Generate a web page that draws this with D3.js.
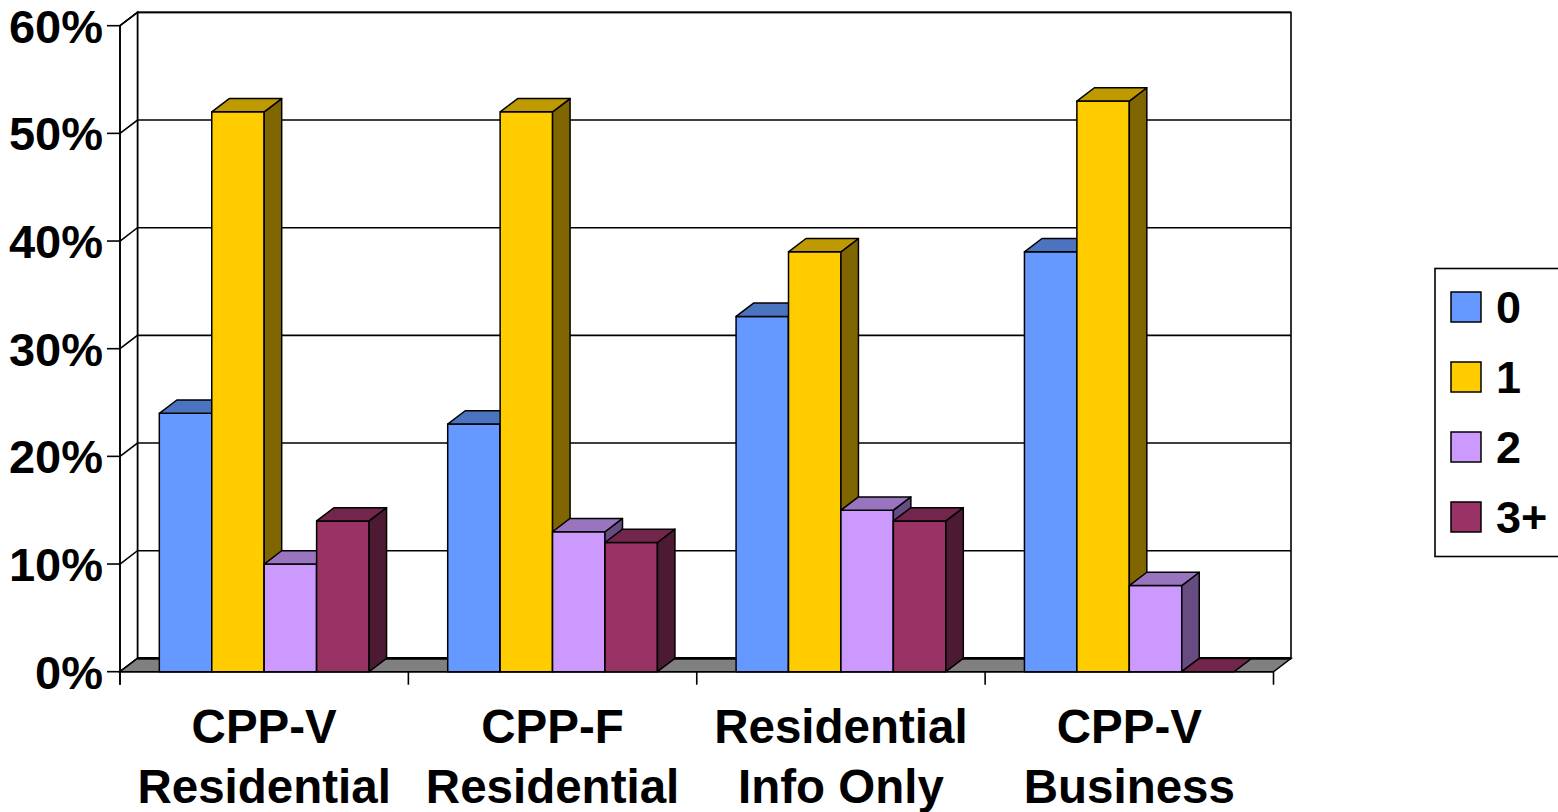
<!DOCTYPE html>
<html>
<head>
<meta charset="utf-8">
<script src="https://cdn.jsdelivr.net/npm/d3@7"></script>
<style>
  html, body { margin: 0; padding: 0; background: #fff; }
  svg text { font-family: "Liberation Sans", Arial, sans-serif; font-weight: bold; fill: #000; }
</style>
</head>
<body>
<svg id="chart" width="1558" height="812"></svg>
<script>
// Category labels (two lines each) and series
const categories = ["CPP-V Residential", "CPP-F Residential", "Residential Info Only", "CPP-V Business"];
const categoryLines = [["CPP-V", "Residential"], ["CPP-F", "Residential"], ["Residential", "Info Only"], ["CPP-V", "Business"]];
const seriesNames = ["0", "1", "2", "3+"];

// Percent values per series, one entry per category
const values0 = [24, 23, 33, 39];
const values1 = [52, 52, 39, 53];
const values2 = [10, 13, 15, 8];
const values3 = [14, 12, 14, 0];
const seriesValues = [values0, values1, values2, values3];

const yTicks = [0, 10, 20, 30, 40, 50, 60];

// Face colours: front, top, side
const frontColors = ["#6699FF", "#FFCC00", "#CC99FF", "#993366"];
const topColors   = ["#4C73BF", "#BF9900", "#9975BF", "#73264C"];
const sideColors  = ["#334C80", "#806600", "#664C80", "#4D1A33"];

const svg = d3.select("#chart");

// Front plane geometry and depth offset of the 3D box
const x0 = 120, x1 = 1273.5;
const depthX = 17.5, depthY = -13.3;

const y = d3.scaleLinear().domain([0, 60]).range([671.7, 25.7]);
const xCat = d3.scaleBand().domain(categories).range([x0, x1]).padding(0);
const xSeries = d3.scaleBand().domain(seriesNames).range([0, xCat.bandwidth()])
  .paddingInner(0).paddingOuter(0.75);

const stroke = "#000";
const line = d3.line();

// Back wall
svg.append("rect")
  .attr("x", x0 + depthX).attr("y", y(60) + depthY)
  .attr("width", x1 - x0).attr("height", y(0) - y(60))
  .attr("fill", "#fff").attr("stroke", stroke).attr("stroke-width", 1.6);

// Side wall
svg.append("path")
  .attr("d", line([[x0, y(0)], [x0, y(60)], [x0 + depthX, y(60) + depthY], [x0 + depthX, y(0) + depthY]]) + "Z")
  .attr("fill", "#fff").attr("stroke", stroke).attr("stroke-width", 1.6);

// Gridlines on back wall and side wall
const grid = svg.append("g").attr("stroke", stroke).attr("stroke-width", 1.6).attr("fill", "none");
yTicks.forEach(t => {
  grid.append("path").attr("d", line([[x0, y(t)], [x0 + depthX, y(t) + depthY], [x1 + depthX, y(t) + depthY]]));
});

// Floor
svg.append("path")
  .attr("d", line([[x0, y(0)], [x0 + depthX, y(0) + depthY], [x1 + depthX, y(0) + depthY], [x1, y(0)]]) + "Z")
  .attr("fill", "#808080").attr("stroke", stroke).attr("stroke-width", 1.4);
svg.append("path")
  .attr("d", line([[x0 + depthX, y(0) + depthY], [x1 + depthX, y(0) + depthY]]))
  .attr("stroke", stroke).attr("stroke-width", 2.6);

// Bars, drawn left to right so each bar overlaps the side face of the one before
const bars = svg.append("g").attr("stroke", stroke).attr("stroke-width", 1.5).attr("stroke-linejoin", "round");
categories.forEach((cat, ci) => {
  seriesNames.forEach((s, si) => {
    const v = seriesValues[si][ci];
    const bx = xCat(cat) + xSeries(s);
    const bw = xSeries.bandwidth();
    const yt = y(v), yb = y(0);
    const g = bars.append("g");
    if (v > 0) {
      g.append("path").attr("fill", frontColors[si])
        .attr("d", line([[bx, yb], [bx, yt], [bx + bw, yt], [bx + bw, yb]]) + "Z");
      g.append("path").attr("fill", sideColors[si])
        .attr("d", line([[bx + bw, yb], [bx + bw, yt], [bx + bw + depthX, yt + depthY], [bx + bw + depthX, yb + depthY]]) + "Z");
    }
    g.append("path").attr("fill", topColors[si])
      .attr("d", line([[bx, yt], [bx + depthX, yt + depthY], [bx + bw + depthX, yt + depthY], [bx + bw, yt]]) + "Z");
  });
});

// Front axes
const axes = svg.append("g").attr("stroke", stroke).attr("stroke-width", 1.6).attr("fill", "none");
axes.append("path").attr("d", line([[x0, y(60)], [x0, y(0) + 13]]));
axes.append("path").attr("d", line([[x0, y(0)], [x1, y(0)]]));
yTicks.forEach(t => axes.append("path").attr("d", line([[x0 - 13, y(t)], [x0, y(t)]])));
xCat.domain().concat([null]).forEach((c, i) => {
  const xx = c === null ? x1 : xCat(c);
  axes.append("path").attr("d", line([[xx, y(0)], [xx, y(0) + 13]]));
});

// Y tick labels
svg.append("g").selectAll("text").data(yTicks).join("text")
  .attr("x", 103).attr("y", d => y(d) + 17)
  .attr("text-anchor", "end").attr("font-size", 47)
  .text(d => d + "%");

// Category labels
categories.forEach((cat, ci) => {
  const cx = xCat(cat) + xCat.bandwidth() / 2;
  categoryLines[ci].forEach((ln, li) => {
    svg.append("text").attr("x", cx).attr("y", 743 + li * 60)
      .attr("text-anchor", "middle").attr("font-size", 47.5).text(ln);
  });
});

// Legend
const legend = svg.append("g");
legend.append("rect").attr("x", 1435).attr("y", 268.5).attr("width", 140).attr("height", 288)
  .attr("fill", "#fff").attr("stroke", stroke).attr("stroke-width", 1.6);
seriesNames.forEach((s, si) => {
  const cy = 307 + si * 70;
  legend.append("rect").attr("x", 1451).attr("y", cy - 15).attr("width", 30).attr("height", 30)
    .attr("fill", frontColors[si]).attr("stroke", stroke).attr("stroke-width", 1.5);
  legend.append("text").attr("x", 1496).attr("y", cy + 16).attr("font-size", 45).text(s);
});
</script>
</body>
</html>
